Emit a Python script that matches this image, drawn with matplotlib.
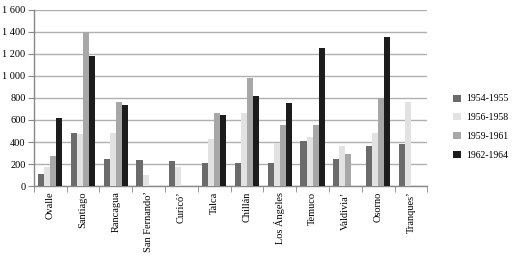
import matplotlib
matplotlib.use('Agg')
import matplotlib.pyplot as plt
import numpy as np

# ----- data -----
cities = ['Ovalle', 'Santiago', 'Rancagua', 'San Fernando’', 'Curicó’', 'Talca',
          'Chillán', 'Los Ángeles', 'Temuco', 'Valdivia’', 'Osorno', 'Tranques’']
periods = ['1954-1955', '1956-1958', '1959-1961', '1962-1964']

v_1954 = [110, 480, 245, 235, 225, 205, 205, 205, 412, 245, 364, 382]
v_1956 = [175, 470, 480, 100, 175, 425, 660, 388, 442, 364, 485, 761]
v_1959 = [270, 1400, 760, 0, 0, 660, 980, 551, 551, 294, 803, 0]
v_1962 = [615, 1185, 735, 0, 0, 642, 818, 752, 1255, 0, 1352, 0]

colors = ['#6b6b6b', '#e2e2e2', '#a7a7a7', '#1c1c1c']

plt.rcParams['font.family'] = ['Liberation Serif', 'DejaVu Serif']

fig = plt.figure(figsize=(5.13, 2.62), dpi=100, facecolor='w')
ax = fig.add_axes([0.066, 0.29, 0.767, 0.672])

x = np.arange(len(cities))
w = 0.185
series = [v_1954, v_1956, v_1959, v_1962]
for i, vals in enumerate(series):
    ax.bar(x + (i - 1.5) * w, vals, w, color=colors[i], label=periods[i], zorder=3)

ax.set_xlim(-0.5, len(cities) - 0.5)
ax.set_ylim(0, 1600)
ax.set_yticks(np.arange(0, 1601, 200))
ax.set_yticklabels(['0', '200', '400', '600', '800', '1 000', '1 200', '1 400', '1 600'], fontsize=7.5)
ax.yaxis.grid(True, color='#b0b0b0', linewidth=1, zorder=0)

ax.set_xticks(x)
ax.set_xticklabels(cities, rotation=90, fontsize=7.5)
ax.tick_params(axis='x', length=0, pad=4)
ax.set_xticks(np.arange(-0.5, len(cities), 1), minor=True)
ax.tick_params(axis='x', which='minor', length=4, color='#888888')
ax.tick_params(axis='y', length=4, color='#888888', pad=2)

for s in ['top', 'right']:
    ax.spines[s].set_visible(False)
for s in ['left', 'bottom']:
    ax.spines[s].set_color('#888888')
    ax.spines[s].set_linewidth(1)

fig.legend(loc='center left', bbox_to_anchor=(0.884, 0.515), frameon=False,
           fontsize=7, handlelength=0.75, handleheight=0.75, labelspacing=1.0,
           borderpad=0, borderaxespad=0, handletextpad=0.6)

fig.savefig('out.png', dpi=100, facecolor='w')
